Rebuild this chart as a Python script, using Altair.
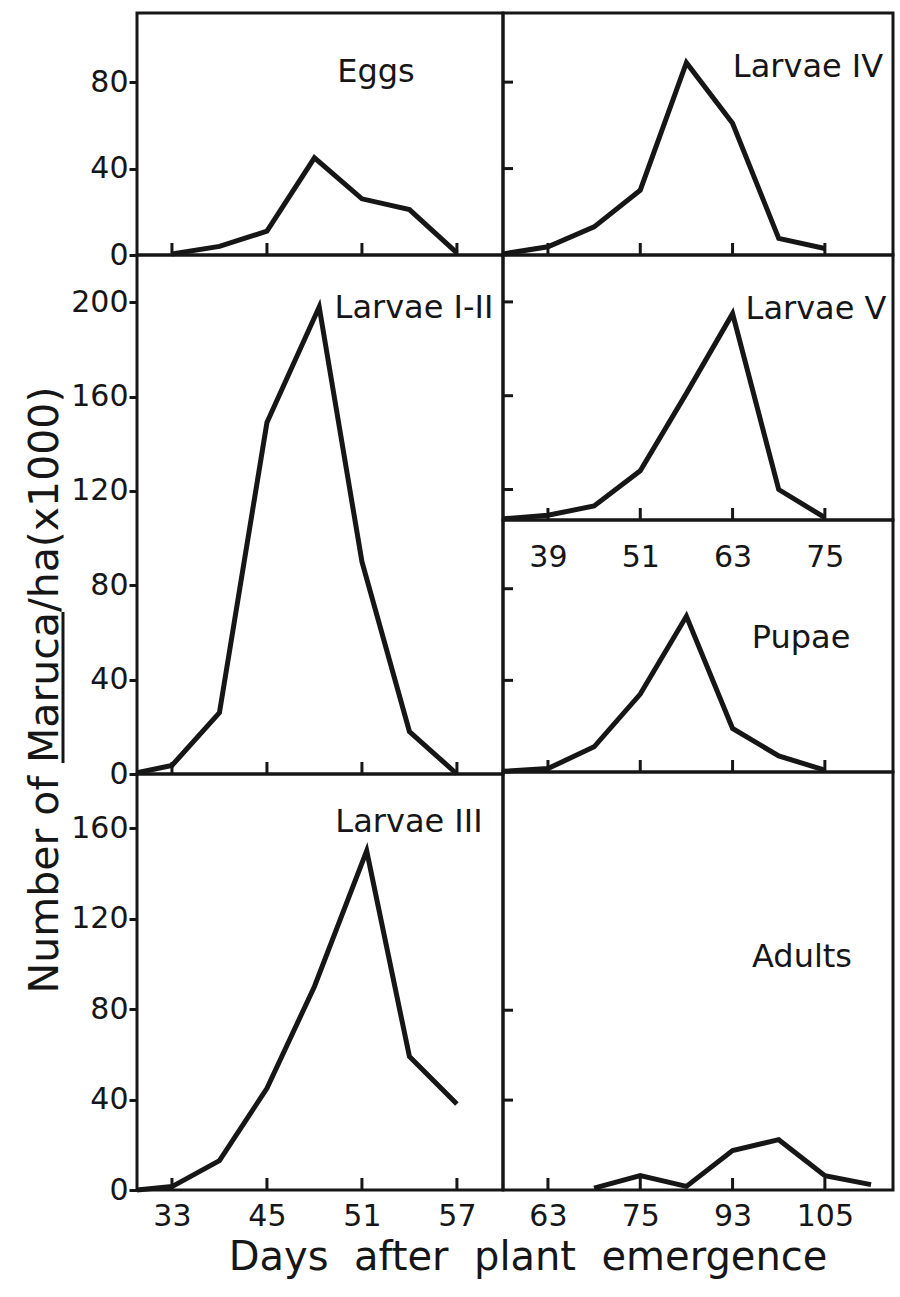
import json
import altair as alt
import pandas as pd

FONT = "DejaVu Sans"
INK = "#161616"
CANVAS_W, CANVAS_H = 900, 1297

# ---------------- data ----------------
# tick slots on every x axis and the day labels printed under them
tick_slots = [1, 2, 3, 4]
days_left = ["33", "45", "51", "57"]
days_larvae5 = ["39", "51", "63", "75"]
days_adults = ["63", "75", "93", "105"]

# sampling slots (in tick-interval units; samples every half interval)
eggs_x = [1, 1.5, 2, 2.5, 3, 3.5, 4]
left_x = [0.632, 1, 1.5, 2, 2.55, 3, 3.5, 4]
left3_x = [0.632, 1, 1.5, 2, 2.5, 3.05, 3.5, 4]
right_x = [0.513, 1, 1.5, 2, 2.5, 3, 3.5, 4]
adults_x = [1.5, 2, 2.5, 3, 3.5, 4, 4.5]

# number of Maruca / ha (x1000)
eggs = [0.5, 4, 11, 45, 26, 21, 1]
larvae_1_2 = [0.5, 3.6, 26, 149, 198, 90, 18, 0]
larvae_3 = [0, 1.5, 13, 45, 90, 150, 59, 38]
larvae_4 = [0.5, 3.8, 13, 30, 89, 61, 7.7, 3]
larvae_5 = [107.5, 109, 113, 128, 161, 195, 120, 108]
pupae = [0.3, 1.5, 11, 34, 68, 19, 7, 0.8]
adults = [0.8, 6.4, 1.6, 17.6, 22.4, 6.4, 2.4]

# y tick values
yt_eggs = [0, 40, 80]
yt_l12 = [0, 40, 80, 120, 160, 200]
yt_l3 = [0, 40, 80, 120, 160]
yt_l4 = [40, 80]
yt_l5 = [120, 160, 200]
yt_pupae = [40, 80]
yt_adults = [40, 80]

# y domains
yd_eggs = [0, 112]
yd_l4 = [0, 112]
yd_l12 = [0, 220]
yd_l5 = [107, 220]
yd_pupae = [0, 110]
yd_l3 = [0, 184]
yd_adults = [0, 186]

y_title = "Number of Maruca/ha(x1000)"
x_title = "Days\u00a0\u00a0after\u00a0\u00a0plant\u00a0\u00a0emergence"

# ---------------- layout (pixels) ----------------
LEFT_COL = (137, 503)
RIGHT_COL = (503, 893)
LEFT_XDOM = [0.632, 4.485]
RIGHT_XDOM = [0.513, 4.738]
LINE_W = 5
FRAME_W = 3


def panel(name, xs, ys, col, rows, ydom, yticks, xlabels, xpad, lab):
    left, right = col
    top, bottom = rows
    is_left = col == LEFT_COL
    xdom = LEFT_XDOM if is_left else RIGHT_XDOM
    xsc = alt.Scale(domain=xdom, range=[left, right], nice=False, zero=False)
    ysc = alt.Scale(domain=ydom, range=[bottom, top], nice=False, zero=False)
    if xlabels:
        xaxis = alt.Axis(orient="bottom", offset=bottom - CANVAS_H, values=tick_slots,
                         labelExpr=json.dumps(xlabels) + "[datum.value - 1]",
                         ticks=False, tickSize=0, domain=False, grid=False, title=None,
                         labelFont=FONT, labelFontSize=30, labelColor=INK,
                         labelPadding=xpad, labelFlush=False, labelOverlap=False)
    else:
        xaxis = None
    if is_left:
        yaxis = alt.Axis(orient="left", offset=-left, values=yticks, tickSize=8,
                         tickWidth=FRAME_W, tickColor=INK, domain=False, grid=False,
                         title=None, labelFont=FONT, labelFontSize=30, labelColor=INK,
                         labelPadding=1, labelOverlap=False, labelFlush=False)
    else:
        yaxis = None
    data = pd.DataFrame({"slot": xs, "n": ys})
    frame = alt.Chart(pd.DataFrame({"k": [0]})).mark_rect(
        filled=False, stroke=INK, strokeWidth=FRAME_W).encode(
        x=alt.value(left), x2=alt.value(right), y=alt.value(top), y2=alt.value(bottom))
    xt = alt.Chart(pd.DataFrame({"slot": tick_slots})).mark_rule(
        color=INK, strokeWidth=FRAME_W).encode(
        x=alt.X("slot:Q", scale=xsc, axis=None),
        y=alt.value(bottom), y2=alt.value(bottom - 12))
    line = alt.Chart(data).mark_line(
        color=INK, strokeWidth=LINE_W, strokeJoin="miter").encode(
        x=alt.X("slot:Q", scale=xsc, axis=xaxis),
        y=alt.Y("n:Q", scale=ysc, axis=yaxis))
    layers = [frame, xt, line]
    if not is_left:
        yt = alt.Chart(pd.DataFrame({"n": yticks})).mark_rule(
            color=INK, strokeWidth=FRAME_W).encode(
            y=alt.Y("n:Q", scale=ysc, axis=None),
            x=alt.value(left), x2=alt.value(left + 10))
        layers.append(yt)
    label = alt.Chart(pd.DataFrame({"t": [name]})).mark_text(
        font=FONT, fontSize=32, color=INK, align="center", baseline="alphabetic").encode(
        x=alt.value(lab[0]), y=alt.value(lab[1]), text="t:N")
    layers.append(label)
    return layers


layers = []
layers += panel("Eggs", eggs_x, eggs, LEFT_COL, (13, 255), yd_eggs, yt_eggs, None, 0, (376, 82))
layers += panel("Larvae I-II", left_x, larvae_1_2, LEFT_COL, (255, 774), yd_l12, yt_l12, None, 0, (414, 318))
layers += panel("Larvae III", left3_x, larvae_3, LEFT_COL, (774, 1190), yd_l3, yt_l3, days_left, 11, (409, 832))
layers += panel("Larvae IV", right_x, larvae_4, RIGHT_COL, (13, 255), yd_l4, yt_l4, None, 0, (808, 77))
layers += panel("Larvae V", right_x, larvae_5, RIGHT_COL, (255, 520), yd_l5, yt_l5, days_larvae5, 22, (816, 319))
layers += panel("Pupae", right_x, pupae, RIGHT_COL, (520, 772), yd_pupae, yt_pupae, None, 0, (801, 648))
layers += panel("Adults", adults_x, adults, RIGHT_COL, (772, 1190), yd_adults, yt_adults, days_adults, 11, (802, 967))

ytitle = alt.Chart(pd.DataFrame({"t": [y_title]})).mark_text(
    font=FONT, fontSize=41, color=INK, angle=270, align="center", baseline="alphabetic").encode(
    x=alt.value(58), y=alt.value(690), text="t:N")
underline = alt.Chart(pd.DataFrame({"k": [0]})).mark_rule(color=INK, strokeWidth=FRAME_W).encode(
    x=alt.value(63), y=alt.value(612), y2=alt.value(763))
xtitle = alt.Chart(pd.DataFrame({"t": [x_title]})).mark_text(
    font=FONT, fontSize=40, color=INK, align="center", baseline="alphabetic").encode(
    x=alt.value(528), y=alt.value(1270), text="t:N")
layers += [ytitle, underline, xtitle]

chart = alt.layer(*layers).resolve_scale(x="independent", y="independent").properties(
    width=CANVAS_W, height=CANVAS_H, padding=0, background="white",
    autosize=alt.AutoSizeParams(type="none"),
).configure_view(stroke="transparent")

chart.save("out.html", embed_options={"renderer": "svg", "actions": False})
